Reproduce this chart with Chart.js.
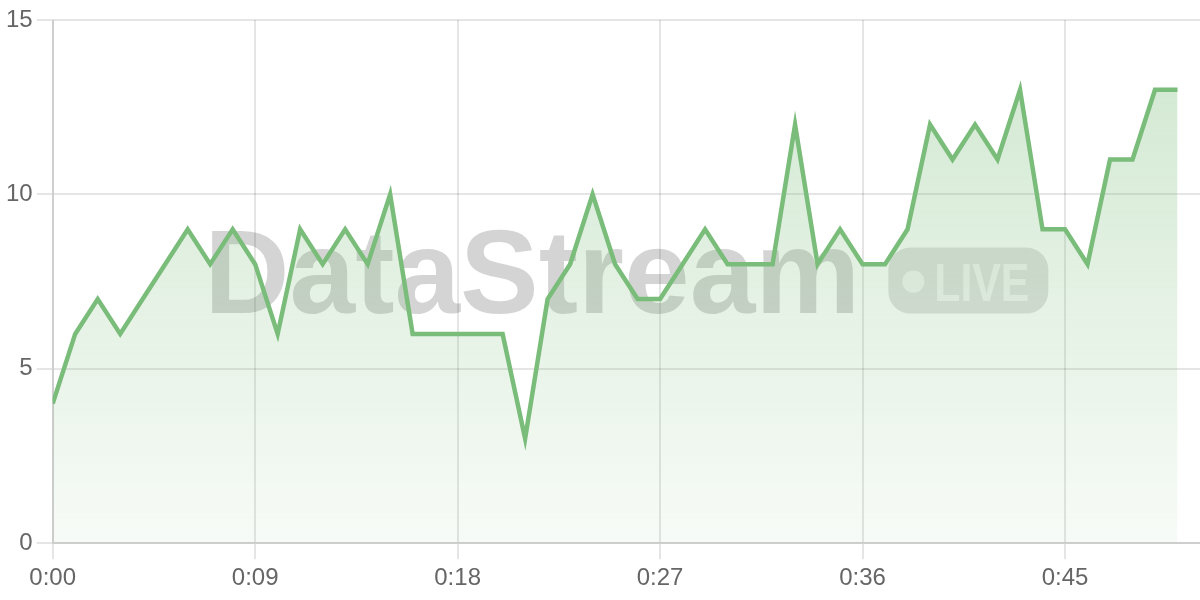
<!DOCTYPE html>
<html>
<head>
<meta charset="utf-8">
<script src="https://cdn.jsdelivr.net/npm/chart.js@4/dist/chart.umd.min.js"></script>
<style>
  html, body { margin: 0; padding: 0; background: #fff; }
  #wrap { width: 1200px; height: 600px; position: relative; }
</style>
</head>
<body>
<div id="wrap"><canvas id="liveChart"></canvas></div>
<script>
// seconds since start of the stream
const seconds = [0, 1, 2, 3, 4, 5, 6, 7, 8, 9, 10, 11, 12, 13, 14, 15, 16, 17, 18, 19,
	20, 21, 22, 23, 24, 25, 26, 27, 28, 29, 30, 31, 32, 33, 34, 35, 36, 37, 38, 39,
	40, 41, 42, 43, 44, 45, 46, 47, 48, 49, 50];
const viewers = [4, 6, 7, 6, 7, 8, 9, 8, 9, 8, 6, 9, 8, 9, 8, 10, 6, 6, 6, 6,
	6, 3, 7, 8, 10, 8, 7, 7, 8, 9, 8, 8, 8, 12, 8, 9, 8, 8, 9, 12,
	11, 12, 11, 13, 9, 9, 8, 11, 11, 13, 13];
const xTicks = [0, 9, 18, 27, 36, 45];
const yTicks = [0, 5, 10, 15];
const brandText = "DataStream";
const badgeText = "LIVE";

const lineGreen = "rgb(122, 188, 122)";

function fmtTime(v) {
	const m = Math.floor(v / 60);
	const s = v % 60;
	return m + ":" + (s < 10 ? "0" : "") + s;
}

// watermark behind the line
const watermark = {
	id: "watermark",
	beforeDatasetsDraw(chart) {
		const { ctx, chartArea } = chart;
		const cx = (chartArea.left + chartArea.right) / 2;
		const cy = (chartArea.top + chartArea.bottom) / 2;
		const textW = 660, gap = 24, pillW = 160, pillH = 66;
		const start = cx - (textW + gap + pillW) / 2;
		ctx.save();
		ctx.textBaseline = "alphabetic";
		ctx.textAlign = "left";
		ctx.font = "bold 118px 'Liberation Sans', Arial, sans-serif";
		ctx.fillStyle = "rgba(0,0,0,0.17)";
		ctx.fillText(brandText, start, cy + 31, textW);

		const px = start + textW + gap;
		const py = cy - 34;
		ctx.fillStyle = "rgba(0,0,0,0.12)";
		ctx.beginPath();
		ctx.roundRect(px, py, pillW, pillH, 22);
		ctx.fill();
		ctx.fillStyle = "rgba(255,255,255,0.6)";
		ctx.beginPath();
		ctx.arc(px + 25, py + 34, 11, 0, Math.PI * 2);
		ctx.fill();
		ctx.font = "bold 53px 'Liberation Sans', Arial, sans-serif";
		ctx.fillText(badgeText, px + 46, py + 53, 95);
		ctx.restore();
	},
};

const ctx = document.getElementById("liveChart").getContext("2d");
const chart = new Chart(ctx, {
	type: "line",
	data: {
		datasets: [
			{
				data: seconds.map(function (s, i) { return { x: s, y: viewers[i] }; }),
				borderColor: lineGreen,
				borderWidth: 4.5,
				tension: 0,
				pointRadius: 0,
				fill: "origin",
				backgroundColor: function (context) {
					const area = context.chart.chartArea;
					if (!area) return "rgba(122,188,122,0.2)";
					const g = context.chart.ctx.createLinearGradient(0, area.top, 0, area.bottom);
					g.addColorStop(0, "rgba(122,188,122,0.36)");
					g.addColorStop(1, "rgba(122,188,122,0.06)");
					return g;
				},
			},
		],
	},
	options: {
		responsive: true,
		maintainAspectRatio: false,
		animation: false,
		layout: { padding: { top: 20, right: 0, bottom: 2, left: 2 } },
		plugins: {
			legend: { display: false },
			tooltip: { enabled: false },
		},
		scales: {
			x: {
				type: "linear",
				min: 0,
				max: 51,
				afterBuildTicks: function (axis) {
					axis.ticks = xTicks.map(function (v) { return { value: v }; });
				},
				grid: { lineWidth: 2, tickLength: 16 },
				border: { width: 2 },
				ticks: {
					color: "#666",
					padding: 5,
					font: { size: 24, family: "'Liberation Sans', Arial, sans-serif" },
					callback: function (v) { return fmtTime(v); },
				},
			},
			y: {
				min: 0,
				max: 15,
				afterBuildTicks: function (axis) {
					axis.ticks = yTicks.map(function (v) { return { value: v }; });
				},
				grid: { lineWidth: 2, tickLength: 16 },
				border: { width: 2 },
				ticks: {
					color: "#666",
					padding: 4,
					font: { size: 24, family: "'Liberation Sans', Arial, sans-serif" },
				},
			},
		},
	},
	plugins: [watermark],
});
</script>
</body>
</html>
